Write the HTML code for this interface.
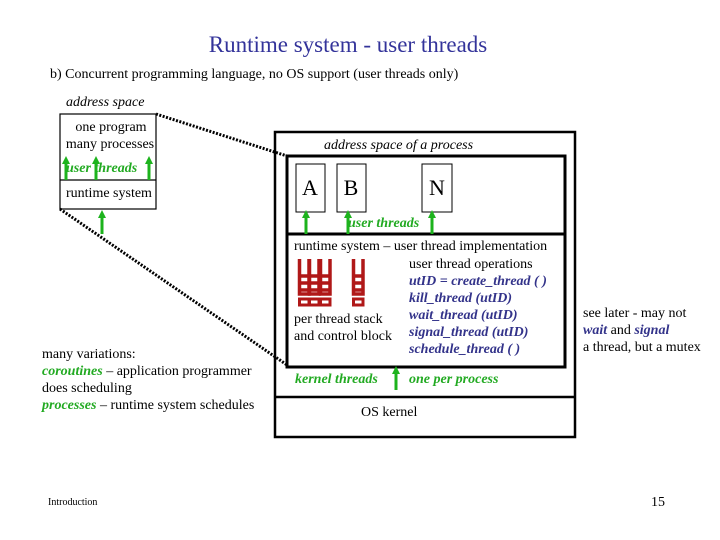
<!DOCTYPE html>
<html><head><style>
body{margin:0;background:#fff;width:720px;height:540px;overflow:hidden}
svg{display:block}
text{font-family:"Liberation Serif",serif}
.b{fill:#33338a;font-style:italic;font-weight:bold;font-size:14px}
.g{fill:#22aa22;font-style:italic;font-weight:bold;font-size:14px}
</style></head><body>
<svg width="720" height="540" viewBox="0 0 720 540">
<defs>
<g id="ar"><rect x="-1.5" y="4" width="3" height="18" fill="#1db31d"/><polygon points="-4,6 4,6 0,-2" fill="#1db31d"/></g>
<g id="stk" fill="none" stroke="#b01818" stroke-width="3.5">
<path d="M1.5,0 V35 H11 V0"/><path d="M1.5,17 H11 M1.5,24 H11 M1.5,31 H11"/>
<rect x="1.5" y="40" width="9.5" height="6" stroke-width="3"/>
</g>
</defs>
<text x="348" y="52" text-anchor="middle" font-size="23" fill="#33339a">Runtime system - user threads</text>
<text x="50" y="78" font-size="14">b) Concurrent programming language, no OS support (user threads only)</text>
<text x="66" y="106" font-size="14" font-style="italic">address space</text>
<rect x="60" y="114" width="96" height="95" fill="none" stroke="#000" stroke-width="1.2"/>
<line x1="60" y1="180" x2="156" y2="180" stroke="#000" stroke-width="1.2"/>
<text x="111" y="131" text-anchor="middle" font-size="14">one program</text>
<text x="110" y="148" text-anchor="middle" font-size="14">many processes</text>
<text x="66" y="172" class="g">user threads</text>
<text x="66" y="197" font-size="14">runtime system</text>
<use href="#ar" x="66" y="158"/><use href="#ar" x="96" y="158"/><use href="#ar" x="149" y="158"/>
<use href="#ar" x="102" y="212"/>
<line x1="156" y1="114" x2="287" y2="156" stroke="#000" stroke-width="3" stroke-dasharray="2,1.5"/>
<line x1="60" y1="209" x2="287" y2="365" stroke="#000" stroke-width="3" stroke-dasharray="2,1.5"/>
<rect x="275" y="132" width="300" height="305" fill="none" stroke="#000" stroke-width="2.5"/>
<text x="324" y="149" font-size="14" font-style="italic">address space of a process</text>
<rect x="287" y="156" width="278" height="211" fill="none" stroke="#000" stroke-width="3"/>
<line x1="287" y1="234" x2="565" y2="234" stroke="#000" stroke-width="3"/>
<line x1="275" y1="397" x2="575" y2="397" stroke="#000" stroke-width="2.5"/>
<rect x="296" y="164" width="29" height="48" fill="#fff" stroke="#000"/>
<rect x="337" y="164" width="29" height="48" fill="#fff" stroke="#000"/>
<rect x="422" y="164" width="30" height="48" fill="#fff" stroke="#000"/>
<text x="310" y="195" text-anchor="middle" font-size="22">A</text>
<text x="351" y="195" text-anchor="middle" font-size="22">B</text>
<text x="437" y="195" text-anchor="middle" font-size="22">N</text>
<text x="348" y="227" class="g">user  threads</text>
<use href="#ar" x="306" y="212"/><use href="#ar" x="348" y="212"/><use href="#ar" x="432" y="212"/>
<text x="294" y="250" font-size="14">runtime system – user thread implementation</text>
<use href="#stk" x="298" y="259"/><use href="#stk" x="308" y="259"/><use href="#stk" x="319" y="259"/><use href="#stk" x="352" y="259"/>
<text x="409" y="268" font-size="14">user thread operations</text>
<text x="409" y="285" class="b">utID = create_thread ( )</text>
<text x="409" y="302" class="b">kill_thread (utID)</text>
<text x="409" y="319" class="b">wait_thread (utID)</text>
<text x="409" y="336" class="b">signal_thread (utID)</text>
<text x="409" y="353" class="b">schedule_thread  ( )</text>
<text x="294" y="323" font-size="14">per thread stack</text>
<text x="294" y="340" font-size="14">and control block</text>
<text x="295" y="383" class="g">kernel threads</text>
<text x="409" y="383" class="g">one per process</text>
<use href="#ar" x="396" y="368"/>
<text x="361" y="416" font-size="14">OS kernel</text>
<text x="583" y="317" font-size="14">see later  - may not</text>
<text x="583" y="334" font-size="14"><tspan class="b">wait</tspan> and <tspan class="b">signal</tspan></text>
<text x="583" y="351" font-size="14">a thread, but a mutex</text>
<text x="42" y="358" font-size="14">many variations:</text>
<text x="42" y="375" font-size="14"><tspan class="g" font-style="normal">coroutines</tspan> – application programmer</text>
<text x="42" y="392" font-size="14">does scheduling</text>
<text x="42" y="409" font-size="14"><tspan class="g" font-style="normal">processes</tspan> – runtime system schedules</text>
<text x="48" y="505" font-size="10" font-family="Liberation Sans">Introduction</text>
<text x="651" y="506" font-size="14">15</text>
</svg>
</body></html>
